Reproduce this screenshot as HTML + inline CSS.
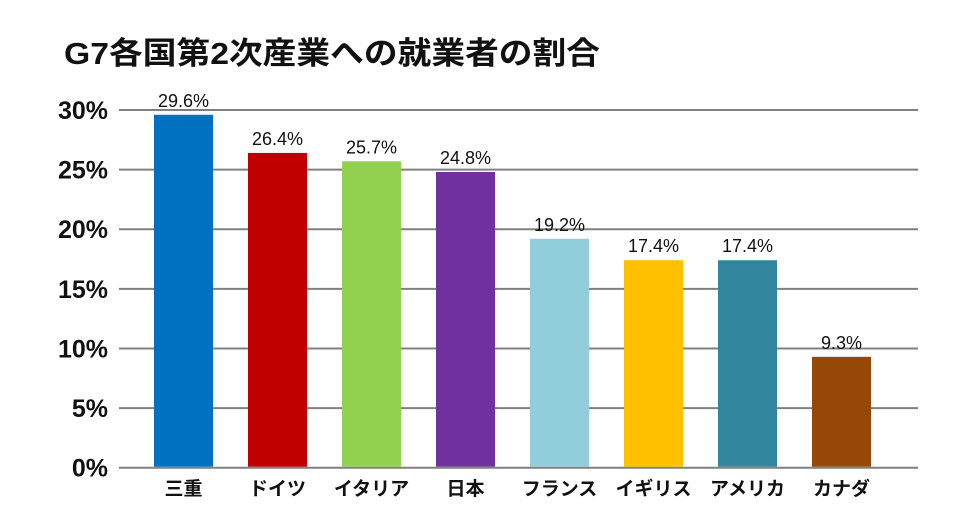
<!DOCTYPE html>
<html><head><meta charset="utf-8"><style>
body{margin:0;background:#fff;}
svg{display:block;font-family:"Liberation Sans","Noto Sans CJK JP",sans-serif;}
</style></head><body>
<svg id="c" width="977" height="520">
<text x="64" y="64" font-size="31" font-weight="bold" fill="#111" textLength="536" lengthAdjust="spacingAndGlyphs">G7各国第2次産業への就業者の割合</text>
<g id="grid"></g><g id="bars"></g>
</svg>
<script>
const categories=["三重","ドイツ","イタリア","日本","フランス","イギリス","アメリカ","カナダ"];
const values=[29.6,26.4,25.7,24.8,19.2,17.4,17.4,9.3];
const valueLabels=["29.6%","26.4%","25.7%","24.8%","19.2%","17.4%","17.4%","9.3%"];
const ticks=[0,5,10,15,20,25,30];
const tickLabels=["0%","5%","10%","15%","20%","25%","30%"];
const colors=["#0070c0","#c00000","#92d050","#7030a0","#92cddc","#ffc000","#31859c","#974706"];
const NS="http://www.w3.org/2000/svg";
const x0=119,x1=918,y0=467.7,yTop=110;
const y=v=>y0-(v/30)*(y0-yTop);
const step=94,bw=59,first=154;
const xb=i=>first+i*step;
const g=document.getElementById('grid'),b=document.getElementById('bars');
function mk(t,a,p){const e=document.createElementNS(NS,t);for(const k in a)e.setAttribute(k,a[k]);p.appendChild(e);return e;}
ticks.forEach((t,i)=>{
 const l=mk('line',{x1:x0,x2:x1,y1:y(t),y2:y(t),stroke:'#808080','stroke-width':2},g);
 
 
 const tx=mk('text',{x:108,y:y(t)+9,'font-size':25,'font-weight':'bold','text-anchor':'end',fill:'#111'},g);
 tx.textContent=tickLabels[i];
 
 
});
values.forEach((v,i)=>{
 const r=mk('rect',{x:xb(i),y:y(v),width:bw,height:y0-1-y(v),fill:colors[i]},b);
 
 
 const t=mk('text',{x:xb(i)+bw/2,y:y(v)-8,'font-size':18,'text-anchor':'middle',fill:'#111'},b);
 t.textContent=valueLabels[i];
 
 
 const c=mk('text',{x:xb(i)+bw/2,y:495,'font-size':19,'font-weight':'bold','text-anchor':'middle',fill:'#111'},b);
 c.textContent=categories[i];
 
 
});
</script>
</body></html>
